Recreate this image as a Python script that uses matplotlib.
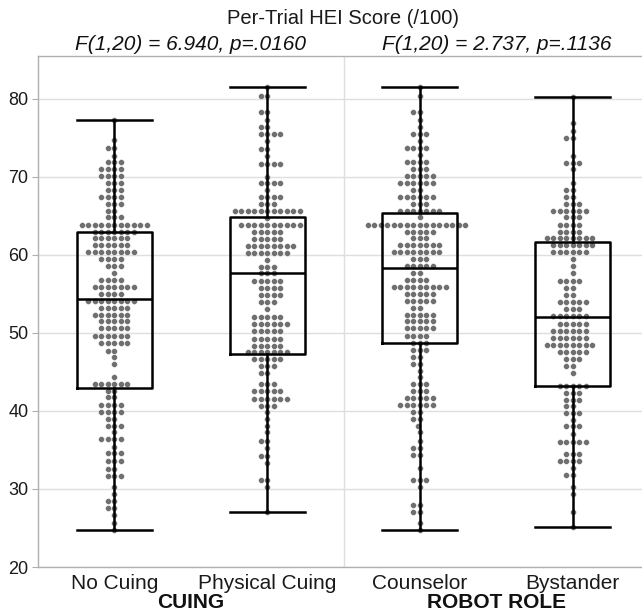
import numpy as np
import pandas as pd
import matplotlib
matplotlib.use('Agg')
import matplotlib.pyplot as plt
import matplotlib.transforms as mtransforms
import seaborn as sns

categories = ['No Cuing', 'Physical Cuing', 'Counselor', 'Bystander']
group_labels = ['CUING', 'ROBOT ROLE']
stat_labels = ['F(1,20) = 6.940, p=.0160', 'F(1,20) = 2.737, p=.1136']
title = 'Per-Trial HEI Score (/100)'

# score levels and number of trials at each level
nocuing_levels = [77.2, 74.7, 73.7, 72.7, 71.9, 71.0, 70.1, 69.2, 68.3, 67.4, 66.5, 65.6, 64.8, 63.8,
                  62.95, 62.1, 61.2, 60.3, 59.4, 58.55, 57.65, 56.75, 55.9, 55.0, 54.1, 53.2, 52.3,
                  51.45, 50.6, 49.65, 48.7, 47.7, 46.9, 46.0, 44.3, 43.5, 42.6, 41.75, 40.8, 39.9,
                  39.0, 38.1, 37.25, 36.4, 35.4, 34.6, 33.6, 32.5, 31.7, 30.3, 29.4, 28.4, 27.5,
                  26.7, 25.7, 24.8]
nocuing_counts = [1, 1, 2, 1, 3, 4, 4, 3, 3, 4, 3, 2, 3, 11,
                  7, 6, 6, 8, 4, 3, 1, 4, 7, 4, 8, 5, 6,
                  5, 5, 6, 5, 2, 1, 1, 1, 6, 2, 2, 4, 4,
                  2, 3, 1, 4, 1, 3, 3, 2, 3, 1, 1, 2, 2,
                  1, 1, 1]

physical_levels = [81.5, 80.4, 78.3, 77.3, 76.4, 75.5, 74.6, 73.55, 72.6, 71.6, 70.0, 69.2, 68.3, 67.4,
                   66.5, 65.6, 64.7, 63.85, 62.95, 62.0, 61.15, 60.2, 59.3, 58.4, 57.6, 56.6, 55.7,
                   54.85, 53.9, 53.0, 52.0, 51.15, 50.2, 49.2, 48.3, 47.5, 46.6, 45.7, 44.8, 43.4,
                   42.5, 41.5, 40.6, 39.8, 39.0, 38.1, 37.25, 36.2, 35.3, 34.2, 33.3, 31.15, 30.2, 27.1]
physical_counts = [1, 2, 2, 1, 2, 4, 1, 2, 1, 4, 1, 4, 1, 4,
                   3, 11, 1, 10, 5, 5, 8, 7, 1, 3, 3, 5, 4,
                   4, 3, 1, 5, 6, 5, 5, 5, 7, 5, 3, 2, 3,
                   5, 6, 3, 1, 1, 1, 1, 2, 1, 2, 1, 2, 1, 1]

counselor_levels = [81.5, 80.3, 78.3, 77.3, 76.4, 75.5, 74.6, 73.7, 72.8, 71.9, 71.0, 70.1, 69.2, 68.3,
                    67.4, 66.5, 65.6, 64.8, 63.85, 62.95, 62.1, 61.2, 60.3, 59.4, 58.55, 57.65, 56.75,
                    55.9, 55.0, 54.1, 53.2, 52.3, 51.45, 50.6, 49.65, 48.7, 47.8, 46.9, 46.0, 45.1,
                    44.3, 43.4, 42.6, 41.6, 40.7, 39.8, 39.0, 38.0, 37.25, 36.2, 35.3, 34.4, 32.7,
                    31.15, 30.2, 28.0, 27.1, 25.7, 24.7]
counselor_counts = [1, 1, 2, 1, 1, 3, 1, 4, 1, 4, 3, 5, 6, 2,
                    6, 3, 7, 1, 16, 5, 3, 7, 8, 3, 5, 2, 4,
                    9, 5, 5, 2, 5, 5, 5, 4, 3, 3, 2, 2, 1,
                    1, 3, 3, 5, 6, 2, 2, 1, 1, 1, 2, 2, 1,
                    3, 1, 2, 2, 1, 1]

bystander_levels = [80.2, 76.9, 75.9, 75.0, 72.7, 71.8, 71.0, 69.2, 68.3, 67.4, 66.5, 65.6, 64.8, 63.85,
                    62.95, 62.1, 61.2, 60.3, 59.4, 58.5, 57.65, 56.6, 55.75, 54.85, 53.9, 53.0, 52.1,
                    51.15, 50.25, 49.4, 48.5, 47.6, 46.7, 45.8, 44.9, 43.2, 42.35, 41.45, 40.6, 39.7,
                    38.8, 38.0, 37.1, 36.0, 34.45, 33.6, 32.7, 31.8, 30.2, 29.3, 27.1, 25.1]
bystander_counts = [1, 1, 1, 2, 1, 3, 1, 1, 2, 2, 3, 6, 3, 4,
                    4, 8, 7, 6, 1, 1, 1, 4, 2, 2, 5, 3, 6,
                    5, 6, 6, 8, 5, 3, 2, 1, 5, 3, 3, 2, 3,
                    1, 3, 1, 5, 3, 4, 1, 2, 1, 1, 1, 1]

# box statistics
box_whishi = [77.2, 81.5, 81.5, 80.2]
box_q3 = [62.95, 64.9, 65.35, 61.6]
box_med = [54.3, 57.65, 58.3, 52.0]
box_q1 = [42.9, 47.35, 48.7, 43.2]
box_whislo = [24.8, 27.1, 24.7, 25.1]

plt.rcParams['font.family'] = ['Liberation Sans', 'DejaVu Sans']

levels = [nocuing_levels, physical_levels, counselor_levels, bystander_levels]
counts = [nocuing_counts, physical_counts, counselor_counts, bystander_counts]
rows = []
for cat, lv, ct in zip(categories, levels, counts):
    for v in np.repeat(lv, ct):
        rows.append((cat, v))
df = pd.DataFrame(rows, columns=['cond', 'score'])

W, H = 642, 613
fig = plt.figure(figsize=(W / 100, H / 100), dpi=100)
ax = fig.add_axes([38 / W, 1 - 567 / H, (649 - 38) / W, (567 - 55.7) / H])

ax.set_xlim(-0.5, 3.5)
ax.set_ylim(20, 85.5)

sns.swarmplot(data=df, x='cond', y='score', order=categories, color='#6f6f6f',
              size=4.2, linewidth=0.25, edgecolor='white', ax=ax, zorder=2)

stats = []
for i in range(4):
    stats.append(dict(med=box_med[i], q1=box_q1[i], q3=box_q3[i],
                      whislo=box_whislo[i], whishi=box_whishi[i], fliers=[]))
lp = dict(color='black', linewidth=1.8)
ax.bxp(stats, positions=range(4), widths=0.49, showfliers=False,
       boxprops=lp, whiskerprops=lp, capprops=lp, medianprops=lp,
       capwidths=0.49, manage_ticks=False, zorder=3)

ax.set_xlim(-0.5, 3.5)
ax.set_ylim(20, 85.5)
ax.set_xticks(range(4))
ax.set_xticklabels(categories)
ax.set_yticks([20, 30, 40, 50, 60, 70, 80])
ax.set_xlabel('')
ax.set_ylabel('')

ax.yaxis.grid(True, color='#dedede', linewidth=1.0)
ax.xaxis.grid(False)
ax.set_axisbelow(True)
ax.axvline(1.5, color='#dedede', linewidth=1.0, zorder=0)

for s in ['left', 'bottom', 'top']:
    ax.spines[s].set_color('#b0b0b0')
    ax.spines[s].set_linewidth(1.0)
ax.spines['right'].set_visible(False)

ax.tick_params(axis='y', length=4, color='#b0b0b0', labelsize=13, pad=3, labelcolor='#1a1a1a')
ax.tick_params(axis='x', length=0, labelsize=15, pad=5, labelcolor='#1a1a1a')

fig.text(343 / W, 1 - 18 / H, title, ha='center', va='center', fontsize=14.5, color='#1a1a1a')
trans = mtransforms.blended_transform_factory(ax.transData, fig.transFigure)
for xpos, lab in zip([0.5, 2.5], stat_labels):
    ax.text(xpos, 1 - 44 / H, lab, transform=trans, ha='center', va='center',
            fontsize=15, style='italic', color='#111111')
for xpos, lab in zip([0.5, 2.5], group_labels):
    ax.text(xpos, 1 - 603 / H, lab, transform=trans, ha='center', va='center',
            fontsize=15, fontweight='bold', color='#111111')

fig.savefig('out.png', dpi=100)
